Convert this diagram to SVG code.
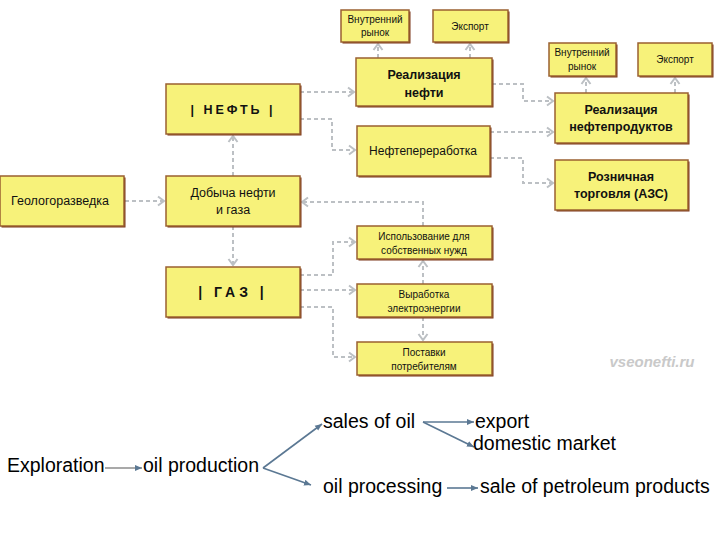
<svg xmlns="http://www.w3.org/2000/svg" width="720" height="540" viewBox="0 0 720 540">
<style>
.box{fill:#f7f27a;stroke:#9a6030;stroke-width:1.5}
.sh{fill:#7a3418}
.t{font-family:"Liberation Sans",Arial,sans-serif;fill:#111;text-anchor:middle}
.s{font-size:10px}
.m{font-size:12px}
.b{font-size:12.5px;font-weight:bold}
.c{fill:none;stroke:#bcc0c4;stroke-width:2;stroke-dasharray:4 3}
.en{font-family:"Liberation Sans",Arial,sans-serif;font-size:19.5px;fill:#000}
.l{fill:none;stroke:#5b7893;stroke-width:1.6}
</style>
<defs>
<marker id="ch" markerUnits="userSpaceOnUse" markerWidth="12" markerHeight="12" viewBox="0 0 12 12" refX="10" refY="6" orient="auto">
<path d="M4,1.5 L10,6 L4,10.5" fill="none" stroke="#bcc0c4" stroke-width="2"/>
</marker>
<marker id="ar" markerUnits="userSpaceOnUse" markerWidth="8" markerHeight="8" viewBox="0 0 8 8" refX="7" refY="4" orient="auto">
<path d="M0,1 L7,4 L0,7 z" fill="#5b7893"/>
</marker>
</defs>
<rect width="720" height="540" fill="#fff"/>
<g id="connectors">
<path class="c" d="M125,201 H164" marker-end="url(#ch)"/>
<path class="c" d="M233,176 V136" marker-end="url(#ch)"/>
<path class="c" d="M233,226 V265" marker-end="url(#ch)"/>
<path class="c" d="M300,92 H354" marker-end="url(#ch)"/>
<path class="c" d="M300,119 H332 V150 H355" marker-end="url(#ch)"/>
<path class="c" d="M378,58 V44" marker-end="url(#ch)"/>
<path class="c" d="M470,58 V44" marker-end="url(#ch)"/>
<path class="c" d="M492,84 H523 V101 H553" marker-end="url(#ch)"/>
<path class="c" d="M490,132 H553" marker-end="url(#ch)"/>
<path class="c" d="M490,158 H523 V183 H553" marker-end="url(#ch)"/>
<path class="c" d="M586,93 V78" marker-end="url(#ch)"/>
<path class="c" d="M675,93 V78" marker-end="url(#ch)"/>
<path class="c" d="M423,226 V202 H302" marker-end="url(#ch)"/>
<path class="c" d="M300,275 H333 V242 H355" marker-end="url(#ch)"/>
<path class="c" d="M300,290 H355" marker-end="url(#ch)"/>
<path class="c" d="M300,307 H333 V357 H355" marker-end="url(#ch)"/>
<path class="c" d="M423,284 V261" marker-end="url(#ch)"/>
<path class="c" d="M423,317 V340" marker-end="url(#ch)"/>
</g>
<g id="n-vnr1"><rect class="sh" x="342.5" y="11.5" width="68" height="32"/><rect class="box" x="341" y="10" width="68" height="32"/><text class="t s" x="375" y="23">Внутренний</text><text class="t s" x="375" y="36">рынок</text></g>
<g id="n-exp1"><rect class="sh" x="434.5" y="11.5" width="75" height="32"/><rect class="box" x="433" y="10" width="75" height="32"/><text class="t s" x="470" y="30">Экспорт</text></g>
<g id="n-realoil"><rect class="sh" x="357.5" y="59.5" width="136" height="48"/><rect class="box" x="356" y="58" width="136" height="48"/><text class="t b" x="424" y="79">Реализация</text><text class="t b" x="424" y="97">нефти</text></g>
<g id="n-neft"><rect class="sh" x="167.5" y="85.5" width="134" height="50"/><rect class="box" x="166" y="84" width="134" height="50"/><text class="t b" x="233" y="114" style="letter-spacing:3px">| НЕФТЬ |</text></g>
<g id="n-geo"><rect class="sh" x="1.5" y="177.5" width="124" height="50"/><rect class="box" x="0" y="176" width="124" height="50"/><text class="t m" x="60" y="205" style="font-size:12.5px">Геологоразведка</text></g>
<g id="n-dob"><rect class="sh" x="167.5" y="177.5" width="134" height="50"/><rect class="box" x="166" y="176" width="134" height="50"/><text class="t m" x="233" y="197" style="font-size:12.5px">Добыча нефти</text><text class="t m" x="233" y="214" style="font-size:12.5px">и газа</text></g>
<g id="n-pererab"><rect class="sh" x="358.5" y="127.5" width="133" height="50"/><rect class="box" x="357" y="126" width="133" height="50"/><text class="t m" x="423" y="155">Нефтепереработка</text></g>
<g id="n-vnr2"><rect class="sh" x="550.5" y="44.5" width="67" height="33"/><rect class="box" x="549" y="43" width="67" height="33"/><text class="t s" x="582" y="56">Внутренний</text><text class="t s" x="582" y="70">рынок</text></g>
<g id="n-exp2"><rect class="sh" x="639.5" y="44.5" width="74" height="33"/><rect class="box" x="638" y="43" width="74" height="33"/><text class="t s" x="675" y="63">Экспорт</text></g>
<g id="n-realnp"><rect class="sh" x="556.5" y="94.5" width="133" height="50"/><rect class="box" x="555" y="93" width="133" height="50"/><text class="t b" x="621" y="114">Реализация</text><text class="t b" x="621" y="131">нефтепродуктов</text></g>
<g id="n-rozn"><rect class="sh" x="556.5" y="161.5" width="133" height="50"/><rect class="box" x="555" y="160" width="133" height="50"/><text class="t b" x="621" y="181">Розничная</text><text class="t b" x="621" y="198">торговля (АЗС)</text></g>
<g id="n-isp"><rect class="sh" x="358.5" y="227.5" width="135" height="33"/><rect class="box" x="357" y="226" width="135" height="33"/><text class="t s" x="424" y="240">Использование для</text><text class="t s" x="424" y="254">собственных нужд</text></g>
<g id="n-gaz"><rect class="sh" x="167.5" y="268.5" width="134" height="50"/><rect class="box" x="166" y="267" width="134" height="50"/><text class="t b" x="233" y="297" style="font-size:14px;letter-spacing:4px">| ГАЗ |</text></g>
<g id="n-vyr"><rect class="sh" x="358.5" y="285.5" width="135" height="33"/><rect class="box" x="357" y="284" width="135" height="33"/><text class="t s" x="424" y="298">Выработка</text><text class="t s" x="424" y="312">электроэнергии</text></g>
<g id="n-post"><rect class="sh" x="358.5" y="343.5" width="135" height="33"/><rect class="box" x="357" y="342" width="135" height="33"/><text class="t s" x="424" y="356">Поставки</text><text class="t s" x="424" y="370">потребителям</text></g>
<text x="652" y="367" style="font-family:'Liberation Sans',Arial,sans-serif;font-size:15px;font-weight:bold;font-style:italic;fill:#c9c9c9;text-anchor:middle">vseonefti.ru</text>
<g id="bottom-connectors">
<path class="l" d="M105,468 H142" style="stroke:#555;stroke-width:1.2" marker-end="url(#ar)"/>
<path class="l" d="M263,468 L322,424" marker-end="url(#ar)"/>
<path class="l" d="M263,468 L311,485" marker-end="url(#ar)"/>
<path class="l" d="M423,422 H474" marker-end="url(#ar)"/>
<path class="l" d="M423,422 L474,447" marker-end="url(#ar)"/>
<path class="l" d="M447,488 H478" marker-end="url(#ar)"/>
</g>
<g id="bottom-nodes">
<text class="en" x="7" y="472">Exploration</text>
<text class="en" x="143" y="472">oil production</text>
<text class="en" x="323" y="428">sales of oil</text>
<text class="en" x="475" y="428">export</text>
<text class="en" x="473" y="450">domestic market</text>
<text class="en" x="323" y="493">oil processing</text>
<text class="en" x="480" y="493">sale of petroleum products</text>
</g>
</svg>
